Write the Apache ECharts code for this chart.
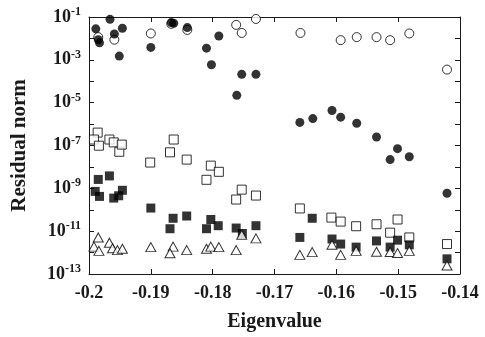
<!DOCTYPE html>
<html><head><meta charset="utf-8">
<script src="https://cdn.jsdelivr.net/npm/echarts@6/dist/echarts.min.js"></script>
<style>html,body{margin:0;padding:0;background:#fff}#c{width:485px;height:337px}</style>
</head><body><div id="c"></div>
<script>
// Eigenvalue (x) and residual norm (y) for each series
const filledCircleX = [-0.1989,-0.1966,-0.1985,-0.1983,-0.1959,-0.1946,-0.1951,-0.19,-0.1867,-0.1863,-0.1841,-0.181,-0.179,-0.1802,-0.1753,-0.173,-0.1761,-0.1659,-0.1638,-0.1607,-0.1593,-0.1567,-0.1535,-0.1501,-0.1513,-0.1482,-0.1421];
const filledCircleY = [2.8e-2,7.8e-2,8.7e-3,6.2e-3,1.6e-2,3.0e-2,1.5e-3,3.8e-3,5.5e-2,5.1e-2,3.2e-2,3.5e-3,1.3e-2,5.9e-4,2.1e-4,2.1e-4,2.2e-5,1.2e-6,1.8e-6,4.3e-6,2.1e-6,1.1e-6,2.5e-7,7.1e-8,2.2e-8,3.0e-8,5.9e-10];
const openCircleX = [-0.1985,-0.1959,-0.19,-0.1867,-0.1841,-0.1762,-0.1753,-0.173,-0.1658,-0.1593,-0.1567,-0.1535,-0.1513,-0.1482,-0.1421];
const openCircleY = [1.15e-2,8.7e-3,1.7e-2,4.8e-2,2.5e-2,4.3e-2,1.8e-2,8.1e-2,1.8e-2,8.3e-3,1.15e-2,1.15e-2,8.3e-3,1.7e-2,3.5e-4];
const openSquareX = [-0.1986,-0.1992,-0.1984,-0.1967,-0.196,-0.1951,-0.1947,-0.1863,-0.1869,-0.1842,-0.1901,-0.1803,-0.179,-0.181,-0.1753,-0.1762,-0.173,-0.1659,-0.1608,-0.1593,-0.1568,-0.1535,-0.1501,-0.1513,-0.1482,-0.1421];
const openSquareY = [4.0e-7,1.9e-7,9.8e-8,1.9e-7,1.4e-7,5.1e-8,1.1e-7,1.9e-7,4.8e-8,2.2e-8,1.6e-8,1.15e-8,5.9e-9,2.5e-9,8.7e-10,3.0e-10,4.6e-10,1.15e-10,4.3e-11,2.8e-11,1.7e-11,2.1e-11,3.5e-11,8.5e-12,5.1e-12,2.5e-12];
const filledSquareX = [-0.1985,-0.1967,-0.199,-0.1983,-0.196,-0.1952,-0.1946,-0.19,-0.1864,-0.1842,-0.1869,-0.1803,-0.181,-0.1791,-0.1762,-0.1752,-0.173,-0.1639,-0.1659,-0.1607,-0.1593,-0.1568,-0.1535,-0.1513,-0.1501,-0.1482,-0.1421];
const filledSquareY = [2.6e-9,3.8e-9,7.2e-10,4.2e-10,3.5e-10,4.5e-10,8.1e-10,1.2e-10,4.0e-11,5.1e-11,1.3e-11,3.5e-11,1.3e-11,1.8e-11,1.4e-11,7.8e-12,1.8e-11,4.0e-11,5.1e-12,4.3e-12,2.5e-12,1.8e-12,3.5e-12,1.8e-12,3.8e-12,2.3e-12,5.1e-13];
const triangleX = [-0.1985,-0.1967,-0.1992,-0.1984,-0.1962,-0.1954,-0.1946,-0.19,-0.1864,-0.1869,-0.1842,-0.181,-0.1803,-0.179,-0.1762,-0.1753,-0.173,-0.1659,-0.1639,-0.1607,-0.1593,-0.1568,-0.1535,-0.1513,-0.1501,-0.1482,-0.1421];
const triangleY = [5.1e-12,2.9e-12,1.9e-12,1.2e-12,1.6e-12,1.3e-12,1.5e-12,1.8e-12,1.9e-12,9.3e-13,1.3e-12,1.5e-12,1.9e-12,1.8e-12,1.3e-12,6.8e-12,4.6e-12,7.8e-13,1.05e-12,2.3e-12,7.8e-13,1.2e-12,1.1e-12,1.07e-12,9.5e-13,1.2e-12,2.5e-13];
const xTicks = [-0.2,-0.19,-0.18,-0.17,-0.16,-0.15,-0.14];

const pair = (xs, ys) => xs.map((x, i) => [x, ys[i]]);
const FONT = '"Liberation Serif", "Times New Roman", serif';
const ink = '#1a1a1a';
const mark = '#000';

const chart = echarts.init(document.getElementById('c'), null, {renderer: 'canvas'});
const logAxisBase = {
  type: 'log', logBase: 10, min: 1e-13, max: 1e-1, interval: 1,
  axisLine: {show: true, lineStyle: {color: ink, width: 1}},
  axisTick: {show: true, inside: true, length: 5, lineStyle: {color: ink}},
  minorTick: {show: false},
  splitLine: {show: false}
};
const xBase = {
  type: 'value', min: xTicks[0], max: xTicks[xTicks.length - 1], interval: 0.01,
  axisLine: {show: true, onZero: false, lineStyle: {color: ink, width: 1}},
  axisTick: {show: true, inside: true, length: 5, lineStyle: {color: ink}},
  splitLine: {show: false}
};
chart.setOption({
  animation: false,
  backgroundColor: '#fff',
  grid: {left: 89, right: 25, top: 17, bottom: 60, containLabel: false},
  xAxis: [
    Object.assign({}, xBase, {
      position: 'bottom',
      name: 'Eigenvalue', nameLocation: 'middle', nameGap: 38,
      nameTextStyle: {fontFamily: FONT, fontWeight: 'bold', fontSize: 20, color: ink},
      axisLabel: {
        margin: 10, fontFamily: FONT, fontWeight: 'bold', fontSize: 18, color: ink,
        formatter: v => String(+v.toFixed(2))
      }
    }),
    Object.assign({}, xBase, {position: 'top', axisLabel: {show: false}})
  ],
  yAxis: [
    Object.assign({}, logAxisBase, {
      position: 'left',
      name: 'Residual norm', nameLocation: 'middle', nameGap: 59, nameRotate: 90,
      nameTextStyle: {fontFamily: FONT, fontWeight: 'bold', fontSize: 21, color: ink},
      axisLabel: {
        margin: 8, color: ink,
        formatter: v => {
          const e = Math.round(Math.log10(v));
          if (Math.abs(e) % 2 !== 1) return '';
          return '{b|10}{s|' + e + '}';
        },
        rich: {
          b: {fontFamily: FONT, fontWeight: 'bold', fontSize: 18, color: ink},
          s: {fontFamily: FONT, fontWeight: 'bold', fontSize: 12, color: ink, padding: [0, 0, 10, 0]}
        }
      }
    }),
    Object.assign({}, logAxisBase, {position: 'right', axisLabel: {show: false}})
  ],
  series: [
    {type: 'scatter', name: 'open circle', data: pair(openCircleX, openCircleY), symbol: 'circle', symbolSize: 9,
     itemStyle: {color: '#fff', borderColor: mark, borderWidth: 1}},
    {type: 'scatter', name: 'filled circle', data: pair(filledCircleX, filledCircleY), symbol: 'circle', symbolSize: 9,
     itemStyle: {color: mark}},
    {type: 'scatter', name: 'open square', data: pair(openSquareX, openSquareY), symbol: 'rect', symbolSize: 9,
     itemStyle: {color: '#fff', borderColor: mark, borderWidth: 1}},
    {type: 'scatter', name: 'filled square', data: pair(filledSquareX, filledSquareY), symbol: 'rect', symbolSize: 9,
     itemStyle: {color: mark}},
    {type: 'scatter', name: 'triangle', data: pair(triangleX, triangleY), symbol: 'triangle', symbolSize: [10, 9],
     itemStyle: {color: '#fff', borderColor: mark, borderWidth: 1}}
  ]
});
</script></body></html>
